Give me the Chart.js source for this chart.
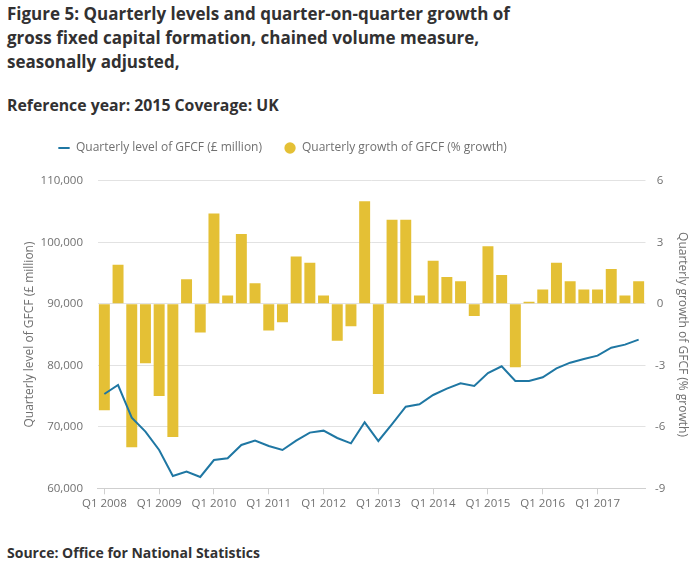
<!DOCTYPE html>
<html>
<head>
<meta charset="utf-8">
<script src="https://cdn.jsdelivr.net/npm/chart.js@4"></script>
<style>
  html, body { margin: 0; padding: 0; background: #ffffff; }
  body { width: 698px; height: 561px; position: relative; overflow: hidden; font-family: "Open Sans", sans-serif; }
  .title { position: absolute; left: 7px; top: 2px; font-weight: bold; font-size: 17px; line-height: 24px; color: #323132; white-space: nowrap; }
  .subtitle { position: absolute; left: 7px; top: 93px; font-weight: bold; font-size: 15.8px; line-height: 24px; color: #323132; white-space: nowrap; }
  .source { position: absolute; left: 7px; top: 543px; font-weight: bold; font-size: 14px; line-height: 20px; color: #323132; white-space: nowrap; }
  #c { position: absolute; left: 0; top: 120px; }
</style>
</head>
<body>
<div class="title">Figure 5: Quarterly levels and quarter-on-quarter growth of<br>gross fixed capital formation, chained volume measure,<br>seasonally adjusted,</div>
<div class="subtitle">Reference year: 2015 Coverage: UK</div>
<canvas id="c" width="698" height="405"></canvas>
<div class="source">Source: Office for National Statistics</div>
<script>
const categories = [
  "Q1 2008","Q2 2008","Q3 2008","Q4 2008",
  "Q1 2009","Q2 2009","Q3 2009","Q4 2009",
  "Q1 2010","Q2 2010","Q3 2010","Q4 2010",
  "Q1 2011","Q2 2011","Q3 2011","Q4 2011",
  "Q1 2012","Q2 2012","Q3 2012","Q4 2012",
  "Q1 2013","Q2 2013","Q3 2013","Q4 2013",
  "Q1 2014","Q2 2014","Q3 2014","Q4 2014",
  "Q1 2015","Q2 2015","Q3 2015","Q4 2015",
  "Q1 2016","Q2 2016","Q3 2016","Q4 2016",
  "Q1 2017","Q2 2017","Q3 2017","Q4 2017"
];
const levelGFCF = [
  75330, 76790, 71480, 69210,
  66230, 62000, 62710, 61840,
  64600, 64880, 67040, 67750,
  66880, 66230, 67750, 69050,
  69370, 68180, 67310, 70730,
  67690, 70450, 73270, 73650,
  75170, 76200, 77060, 76630,
  78740, 79830, 77440, 77440,
  78040, 79500, 80420, 81020,
  81560, 82860, 83350, 84160
];
const growthGFCF = [
  -5.2, 1.9, -7.0, -2.9,
  -4.5, -6.5, 1.2, -1.4,
  4.4, 0.4, 3.4, 1.0,
  -1.3, -0.9, 2.3, 2.0,
  0.4, -1.8, -1.1, 5.0,
  -4.4, 4.1, 4.1, 0.4,
  2.1, 1.3, 1.1, -0.6,
  2.8, 1.4, -3.1, 0.1,
  0.7, 2.0, 1.1, 0.7,
  0.7, 1.7, 0.4, 1.1
];
const leftTicks = [60000, 70000, 80000, 90000, 100000, 110000];
const rightTicks = [-9, -6, -3, 0, 3, 6];

const FONT = "'Open Sans', sans-serif";
const GREY = "#707070";
const GRID = "#e2e2e2";

const layoutFix = {
  id: 'layoutFix',
  beforeInit(chart) {
    const lg = chart.legend;
    if (lg) {
      const origFit = lg.fit.bind(lg);
      lg.fit = function () { origFit(); this.height = 60.7; };
    }
  },
  afterLayout(chart) {
    const lg = chart.legend;
    if (lg) { lg.left += 36; lg.right += 36; }
  }
};

new Chart(document.getElementById('c'), {
  type: 'bar',
  data: {
    labels: categories,
    datasets: [
      {
        type: 'line',
        label: 'Quarterly level of GFCF (£ million)',
        data: levelGFCF,
        yAxisID: 'y',
        borderColor: '#1f77a3',
        backgroundColor: '#1f77a3',
        borderWidth: 2,
        pointRadius: 0,
        pointHoverRadius: 0,
        tension: 0,
        pointStyle: 'line',
        order: 0
      },
      {
        type: 'bar',
        label: 'Quarterly growth of GFCF (% growth)',
        data: growthGFCF,
        yAxisID: 'y1',
        backgroundColor: '#e4c035',
        borderWidth: 0,
        barPercentage: 0.8,
        categoryPercentage: 1.0,
        pointStyle: 'circle',
        order: 1
      }
    ]
  },
  options: {
    responsive: false,
    maintainAspectRatio: false,
    devicePixelRatio: 1,
    animation: false,
    layout: { padding: 0 },
    plugins: {
      legend: {
        display: true,
        position: 'top',
        align: 'start',
        labels: {
          usePointStyle: true,
          boxWidth: 13,
          boxHeight: 8,
          padding: 22,
          color: GREY,
          font: { family: FONT, size: 12 }
        }
      },
      tooltip: { enabled: false },
      title: { display: false }
    },
    scales: {
      x: {
        type: 'category',
        offset: true,
        afterFit(scale) { scale.height = 36.7; },
        grid: {
          display: true,
          drawOnChartArea: false,
          offset: false,
          drawTicks: true,
          tickLength: 6,
          color: (ctx) => (ctx.index % 4 === 0 ? '#cfcfcf' : 'rgba(0,0,0,0)')
        },
        border: { display: true, color: '#cfcfcf', width: 1 },
        ticks: {
          autoSkip: false,
          maxRotation: 0,
          minRotation: 0,
          padding: 3,
          color: GREY,
          font: { family: FONT, size: 11.5 },
          callback: function (value, index) { return index % 4 === 0 ? categories[index] : ''; }
        }
      },
      y: {
        type: 'linear',
        position: 'left',
        min: 60000,
        max: 110000,
        afterFit(scale) { scale.width = 97.5; },
        afterBuildTicks(scale) { scale.ticks = leftTicks.map(v => ({ value: v })); },
        grid: { color: GRID, drawTicks: false, lineWidth: 1 },
        border: { display: false },
        ticks: {
          padding: 14.5,
          color: GREY,
          font: { family: FONT, size: 11.5 },
          callback: (v) => v.toLocaleString('en-GB')
        },
        title: {
          display: true,
          text: 'Quarterly level of GFCF (£ million)',
          color: GREY,
          font: { family: FONT, size: 12 },
          padding: { top: 22.8, bottom: 0 }
        }
      },
      y1: {
        type: 'linear',
        position: 'right',
        min: -9,
        max: 6,
        afterFit(scale) { scale.width = 52.5; },
        afterBuildTicks(scale) { scale.ticks = rightTicks.map(v => ({ value: v })); },
        grid: { drawOnChartArea: false, drawTicks: false },
        border: { display: false },
        ticks: {
          padding: 9.5,
          crossAlign: 'center',
          color: GREY,
          font: { family: FONT, size: 11.5 },
          callback: (v) => String(v)
        },
        title: {
          display: true,
          text: 'Quarterly growth of GFCF (% growth)',
          color: GREY,
          font: { family: FONT, size: 12 },
          padding: { top: 8.8, bottom: 0 }
        }
      }
    }
  },
  plugins: [layoutFix]
});
</script>
</body>
</html>
